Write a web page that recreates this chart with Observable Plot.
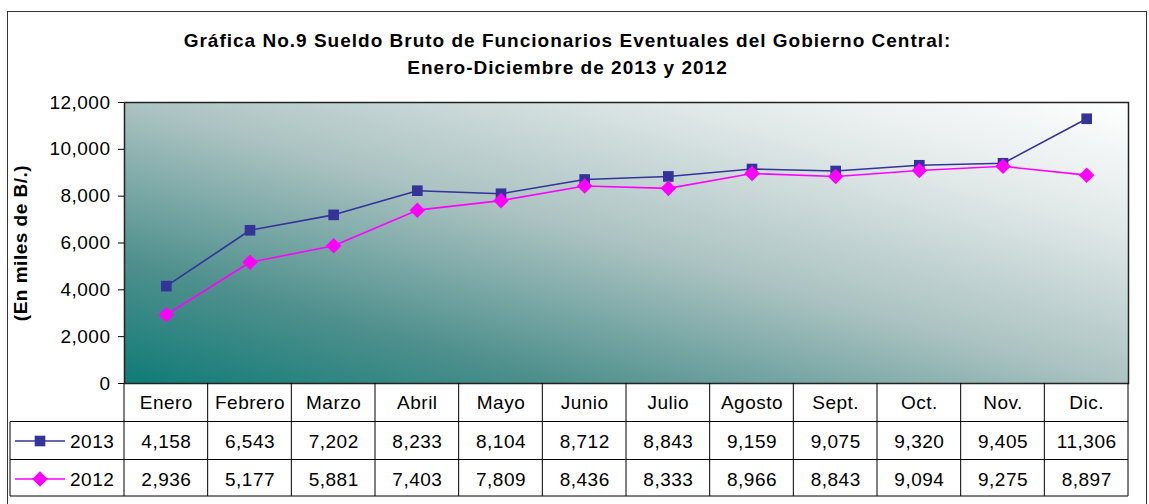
<!DOCTYPE html>
<html><head><meta charset="utf-8">
<script src="https://cdn.jsdelivr.net/npm/d3@7"></script>
<script src="https://cdn.jsdelivr.net/npm/@observablehq/plot@0.6"></script>
<style>
body{margin:0;background:#fff;font-family:"Liberation Sans",Arial,sans-serif;}
#wrap{position:relative;width:1149px;height:504px;overflow:hidden;}
#border{position:absolute;left:7px;top:11px;width:1140px;height:520px;border:1.5px solid #333;box-sizing:border-box;}
#title{position:absolute;left:7px;width:1121px;top:27px;text-align:center;font-weight:bold;font-size:19px;letter-spacing:1px;line-height:27px;color:#000;}
#chart{position:absolute;left:0;top:0;}
</style></head><body>
<div id="wrap"><div id="border"></div><div id="chart"></div>
<div id="title">Gráfica No.9 Sueldo Bruto de Funcionarios Eventuales del Gobierno Central:<br>Enero-Diciembre de 2013 y 2012</div></div>
<script>
const months = ["Enero","Febrero","Marzo","Abril","Mayo","Junio","Julio","Agosto","Sept.","Oct.","Nov.","Dic."];
const values2013 = [4158,6543,7202,8233,8104,8712,8843,9159,9075,9320,9405,11306];
const values2012 = [2936,5177,5881,7403,7809,8436,8333,8966,8843,9094,9275,8897];
const seriesNames = ["2013","2012"];
const seriesColors = ["#333399","#ff00ff"];
const yTicks = [0,2000,4000,6000,8000,10000,12000];
const yLabel = "(En miles de B/.)";

const fmt = d3.format(",");
const d2013 = months.map((m,i)=>({month:m, year:"2013", value:values2013[i]}));
const d2012 = months.map((m,i)=>({month:m, year:"2012", value:values2012[i]}));
const data = d2013.concat(d2012);
const FS = 19;

const plot = Plot.plot({
  width:1149, height:504, marginLeft:124, marginRight:21, marginTop:102, marginBottom:121,
  style:{fontFamily:"'Liberation Sans', Arial, sans-serif", fontSize:FS+"px", background:"transparent", color:"#000", letterSpacing:"0.5px"},
  x:{type:"point", domain:months, padding:0.5, round:false, axis:null},
  y:{domain:[0,12000], axis:null},
  color:{domain:seriesNames, range:seriesColors},
  marks:[
    Plot.frame({fill:"url(#bggrad)", stroke:"#222", strokeWidth:1.5}),
    Plot.axisY({ticks:yTicks, tickFormat:fmt, label:null, tickSize:6, tickPadding:8, fontSize:FS, stroke:"#000"}),
    Plot.text([yLabel], {frameAnchor:"left", textAnchor:"middle", dx:-104, rotate:-90, fontWeight:"bold", fontSize:FS, fill:"#000"}),
    Plot.line(data, {x:"month", y:"value", z:"year", stroke:"year", strokeWidth:1.6}),
    Plot.dot(d2013, {x:"month", y:"value", symbol:"square", fill:d=>d.year, r:6}),
    Plot.dot(d2012, {x:"month", y:"value", symbol:"diamond2", fill:d=>d.year, r:7}),
    Plot.text(months, {x:d=>d, frameAnchor:"bottom", lineAnchor:"middle", dy:19, fontSize:FS, fill:"#000"}),
    Plot.text(d2013, {x:"month", frameAnchor:"bottom", lineAnchor:"middle", dy:58, text:d=>fmt(d.value), fontSize:FS, fill:"#000"}),
    Plot.text(d2012, {x:"month", frameAnchor:"bottom", lineAnchor:"middle", dy:96, text:d=>fmt(d.value), fontSize:FS, fill:"#000"})
  ]
});

const svg = d3.select(plot);
const defs = svg.insert("defs", ":first-child");
const g = defs.append("linearGradient").attr("id","bggrad").attr("x1",0).attr("y1",1).attr("x2",1).attr("y2",0);
[[0,"#0f7b77"],[0.22,"#4f908d"],[0.5,"#abc3c2"],[0.78,"#e2e9e9"],[1,"#ffffff"]].forEach(([o,c])=>g.append("stop").attr("offset",o).attr("stop-color",c));

// table grid drawn from the plot's x scale
const xs = plot.scale("x");
const step = xs.apply(months[1]) - xs.apply(months[0]);
const left = xs.apply(months[0]) - step/2;
const right = xs.apply(months[months.length-1]) + step/2;
const yBottom = 383;
const rowLines = [421.5, 459.5, 496];
const rowCenters = [441, 479];
const tg = svg.append("g").attr("stroke","#000").attr("stroke-width",1);
for (let k=0;k<=months.length;k++){
  const xx = left + k*step;
  tg.append("line").attr("x1",xx).attr("x2",xx).attr("y1",yBottom).attr("y2",rowLines[2]);
}
tg.append("line").attr("x1",10).attr("x2",10).attr("y1",rowLines[0]).attr("y2",rowLines[2]);
rowLines.forEach(yy=>tg.append("line").attr("x1",10).attr("x2",right).attr("y1",yy).attr("y2",yy));
// legend keys in the table
seriesNames.forEach((s,i)=>{
  const cy = rowCenters[i];
  const col = seriesColors[i];
  svg.append("line").attr("x1",15).attr("x2",65).attr("y1",cy).attr("y2",cy).attr("stroke",col).attr("stroke-width",1.6);
  const sym = i===0 ? d3.symbol(d3.symbolSquare, Math.PI*36) : d3.symbol(d3.symbolDiamond2, Math.PI*49);
  svg.append("path").attr("d",sym()).attr("transform",`translate(40,${cy})`).attr("fill",col);
  svg.append("text").attr("x",70).attr("y",cy).attr("dy","0.35em").attr("text-anchor","start").attr("font-size",FS).attr("fill","#000").text(s);
});
document.getElementById("chart").appendChild(plot);
</script>
</body></html>
